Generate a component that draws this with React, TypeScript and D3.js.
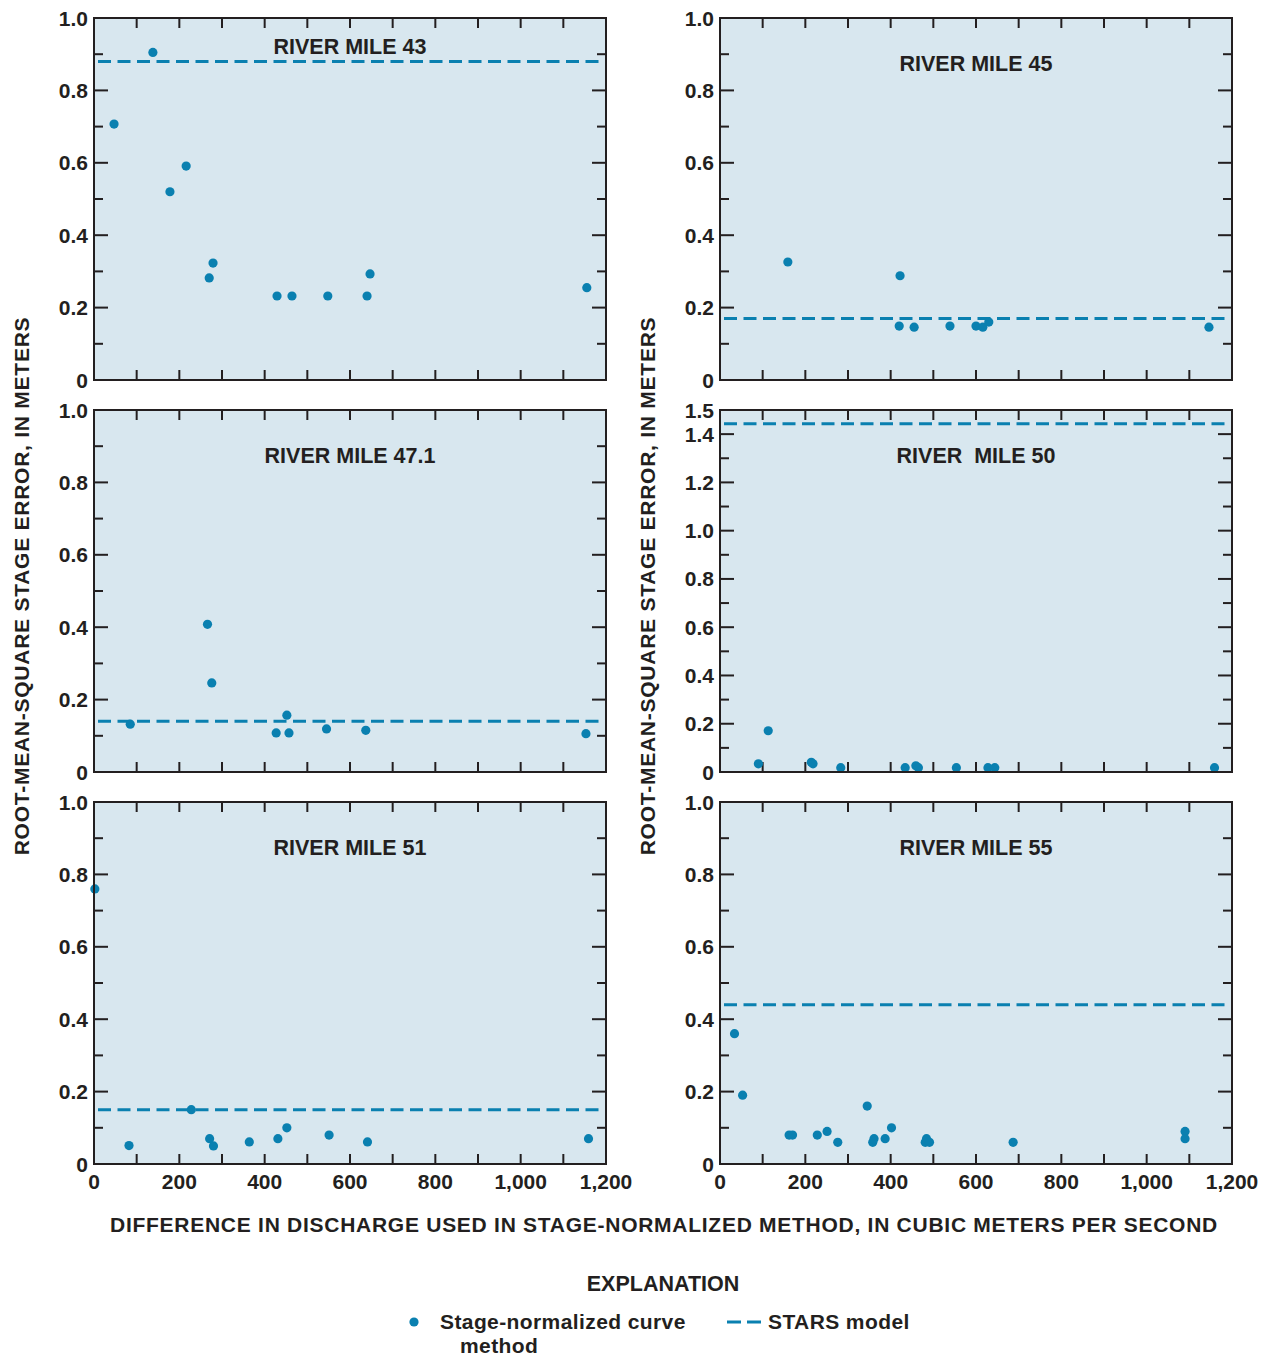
import React, { useEffect, useRef } from "react";
import * as d3 from "d3";

// discharge difference (m3/s) and RMS stage error (m) for each river mile
const rm43X = [47, 138, 178, 216, 270, 279, 429, 464, 548, 640, 647, 1155];
const rm43Y = [0.707, 0.905, 0.52, 0.591, 0.282, 0.323, 0.232, 0.232, 0.232, 0.232, 0.293, 0.255];
const rm43Stars = 0.88;

const rm45X = [159, 422, 420, 455, 539, 600, 616, 630, 1146];
const rm45Y = [0.326, 0.288, 0.149, 0.146, 0.149, 0.149, 0.146, 0.16, 0.146];
const rm45Stars = 0.17;

const rm471X = [85, 266, 276, 427, 452, 457, 545, 637, 1153];
const rm471Y = [0.132, 0.408, 0.246, 0.108, 0.157, 0.108, 0.119, 0.115, 0.106];
const rm471Stars = 0.14;

const rm50X = [90, 113, 214, 218, 283, 434, 459, 465, 554, 628, 644, 1159];
const rm50Y = [0.034, 0.171, 0.04, 0.034, 0.018, 0.018, 0.026, 0.018, 0.018, 0.018, 0.018, 0.018];
const rm50Stars = 1.443;

const rm51X = [2, 82, 228, 271, 280, 364, 431, 452, 551, 641, 1159];
const rm51Y = [0.76, 0.051, 0.15, 0.07, 0.05, 0.061, 0.07, 0.1, 0.08, 0.061, 0.07];
const rm51Stars = 0.15;

const rm55X = [34, 53, 162, 170, 228, 251, 276, 345, 358, 361, 387, 402, 481, 484, 491, 687, 1090, 1090];
const rm55Y = [0.36, 0.19, 0.08, 0.08, 0.08, 0.09, 0.06, 0.16, 0.06, 0.07, 0.07, 0.1, 0.06, 0.07, 0.06, 0.06, 0.09, 0.07];
const rm55Stars = 0.44;

const xTicks = [0, 100, 200, 300, 400, 500, 600, 700, 800, 900, 1000, 1100, 1200];
const xLabels = [0, 200, 400, 600, 800, 1000, 1200];

const BG = "#d8e7ef";
const BLUE = "#0a80b0";
const INK = "#231f20";
const FONT = "'Liberation Sans', Arial, Helvetica, sans-serif";

const panels = [
  { title: "RIVER MILE 43", xs: rm43X, ys: rm43Y, stars: rm43Stars, yMax: 1.0, left: 94, top: 18, titleY: 54, bottom: false },
  { title: "RIVER MILE 45", xs: rm45X, ys: rm45Y, stars: rm45Stars, yMax: 1.0, left: 720, top: 18, titleY: 71, bottom: false },
  { title: "RIVER MILE 47.1", xs: rm471X, ys: rm471Y, stars: rm471Stars, yMax: 1.0, left: 94, top: 410, titleY: 463, bottom: false },
  { title: "RIVER  MILE 50", xs: rm50X, ys: rm50Y, stars: rm50Stars, yMax: 1.5, left: 720, top: 410, titleY: 463, bottom: false },
  { title: "RIVER MILE 51", xs: rm51X, ys: rm51Y, stars: rm51Stars, yMax: 1.0, left: 94, top: 802, titleY: 855, bottom: true },
  { title: "RIVER MILE 55", xs: rm55X, ys: rm55Y, stars: rm55Stars, yMax: 1.0, left: 720, top: 802, titleY: 855, bottom: true },
];

const W = 512;
const H = 362;

function drawPanel(svg, p) {
  const g = svg.append("g").attr("transform", "translate(" + p.left + "," + p.top + ")");
  const x = d3.scaleLinear().domain([0, 1200]).range([0, W]);
  const y = d3.scaleLinear().domain([0, p.yMax]).range([H, 0]);

  g.append("rect").attr("width", W).attr("height", H).attr("fill", BG);

  // x ticks, top and bottom, pointing inward
  xTicks.slice(1, -1).forEach(t => {
    g.append("line").attr("x1", x(t)).attr("x2", x(t)).attr("y1", 0).attr("y2", 10)
      .attr("stroke", INK).attr("stroke-width", 2);
    g.append("line").attr("x1", x(t)).attr("x2", x(t)).attr("y1", H).attr("y2", H - 10)
      .attr("stroke", INK).attr("stroke-width", 2);
  });

  // y ticks every 0.1, major every 0.2
  const yTicks = d3.range(1, Math.round(p.yMax * 10)).map(d => d / 10);
  yTicks.forEach(t => {
    const major = Math.round(t * 10) % 2 === 0;
    const len = major ? 14 : 9;
    g.append("line").attr("x1", 0).attr("x2", len).attr("y1", y(t)).attr("y2", y(t))
      .attr("stroke", INK).attr("stroke-width", 2);
    g.append("line").attr("x1", W).attr("x2", W - len).attr("y1", y(t)).attr("y2", y(t))
      .attr("stroke", INK).attr("stroke-width", 2);
  });

  const yLabels = d3.range(0, Math.round(p.yMax * 10) + 1, 2).map(d => d / 10);
  if (p.yMax === 1.5) yLabels.push(1.5);
  yLabels.forEach(t => {
    g.append("text").attr("x", -6).attr("y", y(t)).attr("dy", "0.36em")
      .attr("text-anchor", "end").attr("font-size", 21).attr("font-weight", "bold")
      .attr("fill", INK).text(t === 0 ? "0" : d3.format(".1f")(t));
  });

  if (p.bottom) {
    xLabels.forEach(t => {
      g.append("text").attr("x", x(t)).attr("y", H + 25)
        .attr("text-anchor", "middle").attr("font-size", 21).attr("font-weight", "bold")
        .attr("fill", INK).text(d3.format(",")(t));
    });
  }

  g.append("text").attr("x", W / 2).attr("y", p.titleY - p.top)
    .attr("text-anchor", "middle").attr("font-size", 21.5).attr("font-weight", "bold")
    .attr("fill", INK).style("white-space", "pre").text(p.title);

  g.append("line").attr("x1", 4).attr("x2", W - 3).attr("y1", y(p.stars)).attr("y2", y(p.stars))
    .attr("stroke", BLUE).attr("stroke-width", 3).attr("stroke-dasharray", "13,6.5");

  g.selectAll(".pt").data(p.xs).enter().append("circle")
    .attr("cx", d => x(d)).attr("cy", (d, i) => y(p.ys[i])).attr("r", 4.6)
    .attr("fill", BLUE);

  g.append("rect").attr("width", W).attr("height", H).attr("fill", "none")
    .attr("stroke", INK).attr("stroke-width", 2);
}

export default function App() {
  const ref = useRef(null);

  useEffect(() => {
    const svg = d3.select(ref.current);
    svg.selectAll("*").remove();
    svg.attr("font-family", FONT);

    panels.forEach(p => drawPanel(svg, p));

    const yTitle = "ROOT-MEAN-SQUARE STAGE ERROR, IN METERS";
    [22, 648].forEach(cx => {
      svg.append("text").attr("transform", "translate(" + (cx + 7) + ",586) rotate(-90)")
        .attr("text-anchor", "middle").attr("font-size", 21).attr("font-weight", "bold")
        .attr("fill", INK).attr("letter-spacing", 0.75).text(yTitle);
    });

    svg.append("text").attr("x", 664).attr("y", 1232).attr("text-anchor", "middle")
      .attr("font-size", 21).attr("font-weight", "bold").attr("fill", INK).attr("letter-spacing", 0.73)
      .text("DIFFERENCE IN DISCHARGE USED IN STAGE-NORMALIZED METHOD, IN CUBIC METERS PER SECOND");

    // explanation
    svg.append("text").attr("x", 663).attr("y", 1291).attr("text-anchor", "middle")
      .attr("font-size", 21.5).attr("font-weight", "bold").attr("fill", INK).text("EXPLANATION");
    svg.append("circle").attr("cx", 414).attr("cy", 1322).attr("r", 4.6).attr("fill", BLUE);
    svg.append("text").attr("x", 440).attr("y", 1329).attr("font-size", 21).attr("letter-spacing", 0.4)
      .attr("font-weight", "bold").attr("fill", INK).text("Stage-normalized curve");
    svg.append("text").attr("x", 460).attr("y", 1353).attr("font-size", 21).attr("letter-spacing", 0.4)
      .attr("font-weight", "bold").attr("fill", INK).text("method");
    svg.append("line").attr("x1", 727).attr("x2", 761).attr("y1", 1322).attr("y2", 1322)
      .attr("stroke", BLUE).attr("stroke-width", 3).attr("stroke-dasharray", "14,6");
    svg.append("text").attr("x", 768).attr("y", 1329).attr("font-size", 21).attr("letter-spacing", 0.4)
      .attr("font-weight", "bold").attr("fill", INK).text("STARS model");
  }, []);

  return (
    <svg ref={ref} width={1271} height={1357}
      style={{ position: "absolute", left: 0, top: 0, background: "#fff" }} />
  );
}
